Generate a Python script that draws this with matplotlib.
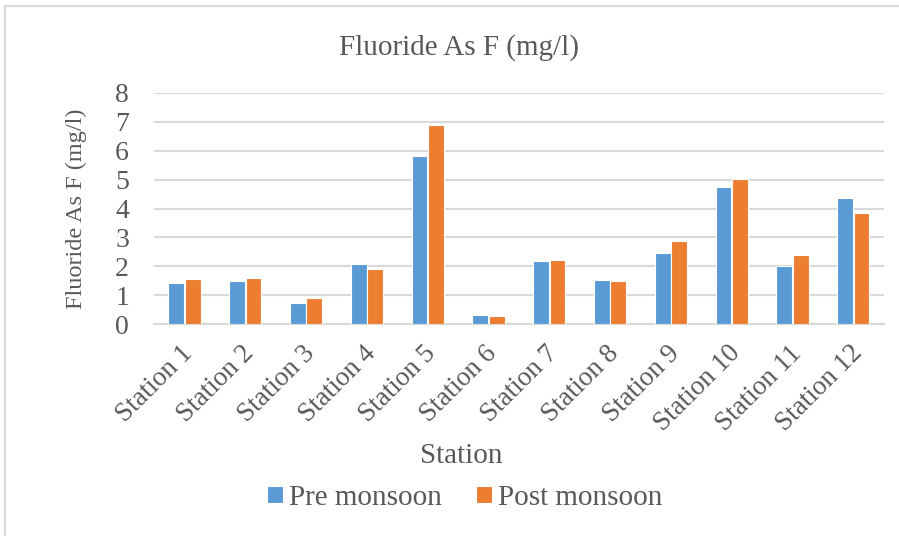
import matplotlib.pyplot as plt
import matplotlib.transforms as mtransforms
import numpy as np
from matplotlib.patches import Rectangle

stations = [f"Station {i}" for i in range(1, 13)]
pre_monsoon = [1.43, 1.50, 0.73, 2.08, 5.81, 0.32, 2.19, 1.54, 2.46, 4.75, 2.01, 4.36]
post_monsoon = [1.57, 1.59, 0.90, 1.89, 6.89, 0.28, 2.22, 1.49, 2.86, 5.01, 2.39, 3.86]
y_ticks = list(range(0, 9))

plt.rcParams['font.family'] = ['Liberation Serif', 'DejaVu Serif']
text_col = '#595959'

fig = plt.figure(figsize=(8.99, 5.36), dpi=100)
ax = fig.add_axes([0.1713, 0.3955, 0.8117, 0.431])

x = np.arange(len(stations))
w = 0.26
ax.bar(x - 0.135, pre_monsoon, w, color='#5B9BD5', edgecolor='white', linewidth=0.8,
       label='Pre monsoon', zorder=3)
ax.bar(x + 0.135, post_monsoon, w, color='#ED7D31', edgecolor='white', linewidth=0.8,
       label='Post monsoon', zorder=3)

ax.set_xlim(-0.5, len(stations) - 0.5)
ax.set_ylim(0, 8)
ax.set_yticks(y_ticks)
ax.set_yticklabels([str(v) for v in y_ticks], fontsize=20, color=text_col)
ax.set_xticks(x)
ax.set_xticklabels(stations, rotation=45, ha='right', rotation_mode='anchor',
                   fontsize=19.5, color=text_col)
ax.tick_params(axis='both', length=0)
ax.tick_params(axis='y', pad=18)
ax.tick_params(axis='x', pad=12)
shift = mtransforms.ScaledTranslation(-4 / 100, 0, fig.dpi_scale_trans)
for lbl in ax.get_xticklabels():
    lbl.set_transform(lbl.get_transform() + shift)
ax.grid(axis='y', color='#D9D9D9', linewidth=1.5, zorder=0)
for s in ['top', 'right', 'left']:
    ax.spines[s].set_visible(False)
ax.spines['bottom'].set_color('#D9D9D9')
ax.spines['bottom'].set_linewidth(1.5)

ax.set_ylabel('Fluoride As F (mg/l)', fontsize=17.5, color=text_col, labelpad=20)
fig.text(0.511, 0.912, 'Fluoride As F (mg/l)', ha='center', va='center',
         fontsize=21, color=text_col)
fig.text(0.513, 0.149, 'Station', ha='center', va='center', fontsize=21, color=text_col)

fig.legend(loc='center', bbox_to_anchor=(0.517, 0.071), ncol=2, frameon=False,
           fontsize=21, handlelength=0.55, handleheight=0.55, handletextpad=0.22,
           columnspacing=1.15, labelcolor=text_col)

fig.patches.append(Rectangle((5 / 899, -0.1), 1.2, 0.1 + 1 - 6 / 536, transform=fig.transFigure,
                             fill=False, edgecolor='#D9D9D9', linewidth=1.5))

fig.savefig('out.png', dpi=100)
